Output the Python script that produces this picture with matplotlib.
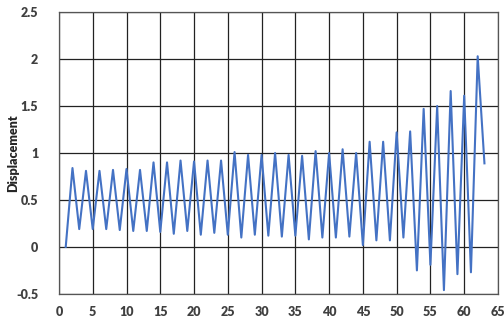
import matplotlib
matplotlib.use("Agg")
import matplotlib.pyplot as plt

# displacement, one value per step 1..63
steps = list(range(1, 64))
displacement = [
    0.0, 0.84, 0.19, 0.81, 0.19, 0.81, 0.19, 0.82, 0.18, 0.83,
    0.17, 0.82, 0.17, 0.90, 0.16, 0.90, 0.14, 0.92, 0.17, 0.91,
    0.13, 0.92, 0.15, 0.92, 0.13, 1.01, 0.10, 0.98, 0.13, 0.98,
    0.12, 1.00, 0.11, 0.98, 0.12, 0.97, 0.08, 1.02, 0.10, 1.00,
    0.10, 1.04, 0.11, 1.00, 0.02, 1.12, 0.07, 1.12, 0.07, 1.22,
    0.10, 1.23, -0.25, 1.47, -0.19, 1.50, -0.46, 1.66, -0.29, 1.61,
    -0.27, 2.03, 0.89,
]
xticks = list(range(0, 70, 5))
yticks = [-0.5, 0, 0.5, 1, 1.5, 2, 2.5]
ytick_labels = ["-0.5", "0", "0.5", "1", "1.5", "2", "2.5"]

plt.rcParams['font.family'] = ['Lato', 'DejaVu Sans']

fig = plt.figure(figsize=(5.04, 3.28), dpi=100)
ax = fig.add_axes([0.117, 0.104, 0.871, 0.859])

ax.plot(steps, displacement, color='#4472C4', linewidth=1.5)

ax.set_xlim(0, 65)
ax.set_ylim(-0.5, 2.5)
ax.set_xticks(xticks)
ax.set_yticks(yticks)
ax.set_yticklabels(ytick_labels)
ax.grid(True, color='#222222', linewidth=0.9)
ax.set_axisbelow(True)
for s in ax.spines.values():
    s.set_color('#555555')
    s.set_linewidth(0.9)
ax.tick_params(length=0, labelsize=9, labelcolor='#404040')
ax.tick_params(axis='x', pad=9)
ax.tick_params(axis='y', pad=15)
for lab in ax.get_xticklabels() + ax.get_yticklabels():
    lab.set_fontweight('heavy')
ax.set_ylabel('Displacement', fontsize=9, fontweight='heavy', color='#262626')
ax.yaxis.set_label_coords(-0.091, 0.5)

fig.savefig('out.png', dpi=100)
